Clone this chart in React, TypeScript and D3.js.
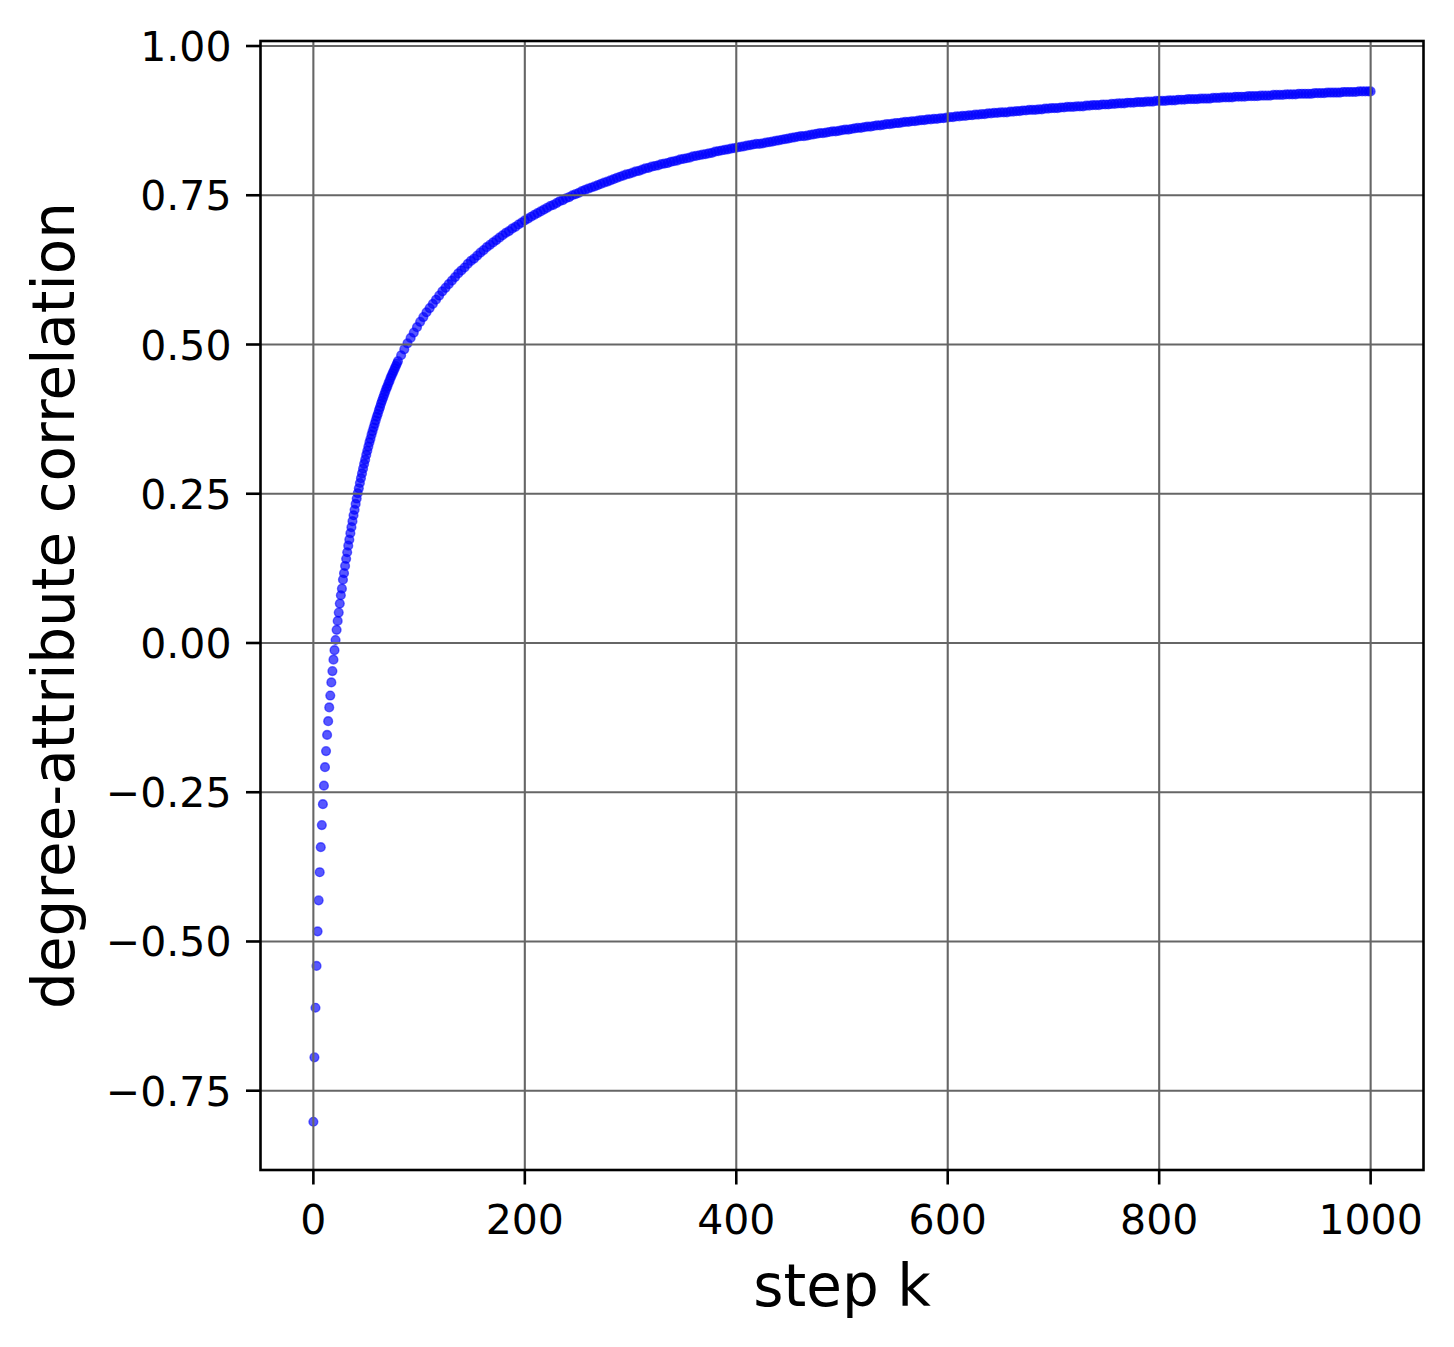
import React from 'react';
import * as d3 from 'd3';

// degree-attribute correlation
// k = 0..80, every step
const earlyCorrelation = [
  -0.802, -0.694, -0.611, -0.541, -0.483, -0.431, -0.384, -0.342, -0.305, -0.270,
  -0.239, -0.208, -0.181, -0.154, -0.131, -0.108, -0.088, -0.066, -0.047, -0.028,
  -0.012, 0.005, 0.022, 0.037, 0.051, 0.066, 0.080, 0.091, 0.106, 0.117,
  0.129, 0.141, 0.152, 0.163, 0.173, 0.184, 0.194, 0.204, 0.214, 0.223,
  0.233, 0.242, 0.251, 0.259, 0.268, 0.276, 0.284, 0.292, 0.300, 0.307,
  0.315, 0.322, 0.329, 0.336, 0.342, 0.349, 0.355, 0.361, 0.367, 0.373,
  0.379, 0.384, 0.390, 0.395, 0.401, 0.406, 0.411, 0.416, 0.421, 0.426,
  0.430, 0.435, 0.439, 0.444, 0.448, 0.452, 0.456, 0.460, 0.464, 0.468,
  0.472,
];

// k = 83..998, sampled every 3 steps
const laterCorrelation = [
  0.482, 0.492, 0.502, 0.511, 0.520, 0.529, 0.538, 0.546, 0.554, 0.561,
  0.568, 0.575, 0.582, 0.589, 0.595, 0.601, 0.607, 0.613, 0.619, 0.624,
  0.629, 0.635, 0.640, 0.644, 0.649, 0.654, 0.658, 0.663, 0.667, 0.671,
  0.675, 0.679, 0.683, 0.687, 0.690, 0.694, 0.697, 0.701, 0.704, 0.708,
  0.711, 0.714, 0.717, 0.720, 0.723, 0.726, 0.729, 0.732, 0.734, 0.737,
  0.740, 0.742, 0.745, 0.747, 0.750, 0.752, 0.754, 0.757, 0.759, 0.761,
  0.763, 0.765, 0.767, 0.769, 0.771, 0.773, 0.775, 0.777, 0.779, 0.781,
  0.783, 0.785, 0.786, 0.788, 0.790, 0.791, 0.793, 0.795, 0.796, 0.798,
  0.799, 0.800, 0.802, 0.803, 0.804, 0.806, 0.807, 0.808, 0.810, 0.811,
  0.812, 0.813, 0.815, 0.816, 0.817, 0.818, 0.819, 0.820, 0.821, 0.823,
  0.824, 0.825, 0.826, 0.827, 0.828, 0.829, 0.830, 0.831, 0.832, 0.833,
  0.834, 0.835, 0.836, 0.836, 0.837, 0.838, 0.839, 0.840, 0.841, 0.842,
  0.843, 0.844, 0.845, 0.846, 0.847, 0.848, 0.849, 0.849, 0.850, 0.851,
  0.852, 0.853, 0.854, 0.854, 0.855, 0.856, 0.857, 0.857, 0.858, 0.859,
  0.860, 0.860, 0.861, 0.862, 0.863, 0.863, 0.864, 0.865, 0.865, 0.866,
  0.867, 0.867, 0.868, 0.869, 0.869, 0.870, 0.871, 0.871, 0.872, 0.873,
  0.873, 0.874, 0.874, 0.875, 0.876, 0.876, 0.877, 0.877, 0.878, 0.878,
  0.879, 0.879, 0.880, 0.881, 0.881, 0.882, 0.882, 0.883, 0.883, 0.884,
  0.884, 0.885, 0.885, 0.886, 0.886, 0.887, 0.887, 0.888, 0.888, 0.889,
  0.889, 0.889, 0.890, 0.890, 0.891, 0.891, 0.892, 0.892, 0.893, 0.893,
  0.893, 0.894, 0.894, 0.895, 0.895, 0.896, 0.896, 0.896, 0.897, 0.897,
  0.898, 0.898, 0.898, 0.899, 0.899, 0.899, 0.900, 0.900, 0.901, 0.901,
  0.901, 0.902, 0.902, 0.902, 0.903, 0.903, 0.904, 0.904, 0.904, 0.905,
  0.905, 0.905, 0.906, 0.906, 0.906, 0.907, 0.907, 0.907, 0.908, 0.908,
  0.908, 0.908, 0.909, 0.909, 0.909, 0.910, 0.910, 0.910, 0.911, 0.911,
  0.911, 0.911, 0.912, 0.912, 0.912, 0.912, 0.913, 0.913, 0.913, 0.914,
  0.914, 0.914, 0.914, 0.915, 0.915, 0.915, 0.915, 0.916, 0.916, 0.916,
  0.916, 0.917, 0.917, 0.917, 0.917, 0.918, 0.918, 0.918, 0.918, 0.919,
  0.919, 0.919, 0.919, 0.920, 0.920, 0.920, 0.920, 0.920, 0.921, 0.921,
  0.921, 0.921, 0.922, 0.922, 0.922, 0.922, 0.922, 0.923, 0.923, 0.923,
  0.923, 0.923, 0.924, 0.924, 0.924, 0.924,
];

// k = 1000
const finalCorrelation = [0.924];

const xTicks = [0, 200, 400, 600, 800, 1000];
const yTicks = [-0.75, -0.5, -0.25, 0, 0.25, 0.5, 0.75, 1.0];
const xLabel = 'step k';
const yLabel = 'degree-attribute correlation';

const earlySteps = d3.range(0, 81);
const laterSteps = d3.range(83, 1000, 3);
const finalSteps = [1000];

export default function App() {
  const W = 1454;
  const H = 1347;
  const left = 260.5;
  const right = 1423.5;
  const top = 41;
  const bottom = 1170;

  const x = d3.scaleLinear().domain([-50, 1050]).range([left, right]);
  const y = d3.scaleLinear().domain([-0.8828, 1.0084]).range([bottom, top]);

  const points = [
    ...earlySteps.map((k, i) => ({ k, v: earlyCorrelation[i] })),
    ...laterSteps.map((k, i) => ({ k, v: laterCorrelation[i] })),
    ...finalSteps.map((k, i) => ({ k, v: finalCorrelation[i] })),
  ].filter((p) => p.v !== undefined);

  const font = 'DejaVu Sans, sans-serif';
  const tickLen = 14.5;
  const tickPad = 14.5;
  const gridColor = '#666666';
  const fmtY = (v: number) => {
    const s = Math.abs(v).toFixed(2);
    return v < 0 ? '\u2212' + s : s;
  };

  return (
    <svg
      width={W}
      height={H}
      viewBox={`0 0 ${W} ${H}`}
      style={{ position: 'absolute', left: 0, top: 0, background: '#ffffff' }}
    >
      <rect x={0} y={0} width={W} height={H} fill="#ffffff" />
      <defs>
        <clipPath id="plotClip">
          <rect x={left} y={top} width={right - left} height={bottom - top} />
        </clipPath>
      </defs>

      <g clipPath="url(#plotClip)">
        {points.map((p, i) => (
          <circle
            key={i}
            cx={x(p.k)}
            cy={y(p.v)}
            r={4.4}
            fill="#0000ff"
            fillOpacity={0.66}
            stroke="#0000ff"
            strokeOpacity={0.55}
            strokeWidth={1.4}
          />
        ))}
      </g>

      {/* grid */}
      <g>
        {xTicks.map((t) => (
          <line key={'gx' + t} x1={x(t)} x2={x(t)} y1={top} y2={bottom} stroke={gridColor} strokeWidth={2.1} />
        ))}
        {yTicks.map((t) => (
          <line key={'gy' + t} x1={left} x2={right} y1={y(t)} y2={y(t)} stroke={gridColor} strokeWidth={2.1} />
        ))}
      </g>

      {/* spines */}
      <rect x={left} y={top} width={right - left} height={bottom - top} fill="none" stroke="#000" strokeWidth={2.6} />

      {/* x ticks */}
      <g>
        {xTicks.map((t) => (
          <g key={'xt' + t}>
            <line x1={x(t)} x2={x(t)} y1={bottom} y2={bottom + tickLen} stroke="#000" strokeWidth={2.6} />
            <text
              x={x(t)}
              y={1234}
              textAnchor="middle"
              fontFamily={font}
              fontSize={41}
              fill="#000"
            >
              {String(t)}
            </text>
          </g>
        ))}
      </g>

      {/* y ticks */}
      <g>
        {yTicks.map((t) => (
          <g key={'yt' + t}>
            <line x1={left - tickLen} x2={left} y1={y(t)} y2={y(t)} stroke="#000" strokeWidth={2.6} />
            <text
              x={left - tickLen - tickPad}
              y={y(t) + 15}
              textAnchor="end"
              fontFamily={font}
              fontSize={41}
              fill="#000"
            >
              {fmtY(t)}
            </text>
          </g>
        ))}
      </g>

      <text
        x={(left + right) / 2}
        y={1306}
        textAnchor="middle"
        fontFamily={font}
        fontSize={58}
        fill="#000"
      >
        {xLabel}
      </text>
      <text
        transform={`translate(74, ${(top + bottom) / 2}) rotate(-90)`}
        textAnchor="middle"
        fontFamily={font}
        fontSize={58}
        fill="#000"
      >
        {yLabel}
      </text>
    </svg>
  );
}
